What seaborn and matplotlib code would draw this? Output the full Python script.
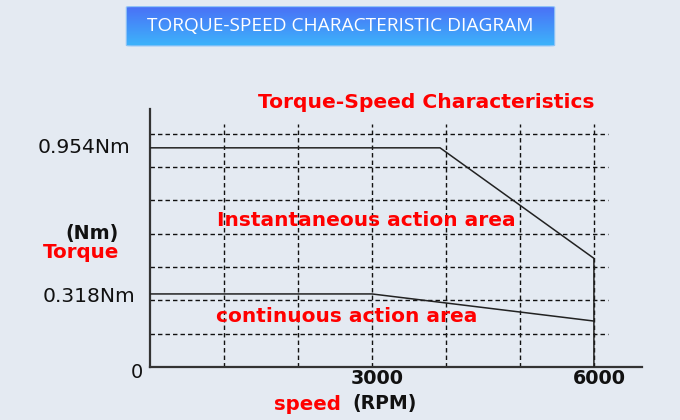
import numpy as np
import pandas as pd
import matplotlib
matplotlib.use("Agg")
import matplotlib.pyplot as plt
from matplotlib.patches import FancyBboxPatch
import seaborn as sns

# ---- data -------------------------------------------------------------
peak_speed = [0, 3920, 6000, 6000]          # RPM
peak_torque = [0.954, 0.954, 0.473, 0.0]    # Nm
rated_speed = [0, 3000, 6000]               # RPM
rated_torque = [0.318, 0.318, 0.200]        # Nm
speed_grid = [1000, 2000, 3000, 4000, 5000, 6000]
torque_grid = [0.145, 0.29, 0.435, 0.58, 0.725, 0.87, 1.015]
torque_marks = [0.954, 0.318]
torque_mark_labels = ["0.954Nm", "0.318Nm"]
speed_marks = [3000, 6000]
speed_mark_labels = ["3000", "6000"]

BG = "#e4eaf2"
RED = "#ff0000"
INK = "#111111"

sns.set_theme(style="white")
plt.rcParams["font.family"] = ["DejaVu Sans"]

W, H = 680, 420
fig = plt.figure(figsize=(W / 100, H / 100), dpi=100, facecolor=BG)


def fx(px):
    return px / W


def fy(py):
    return 1 - py / H


# ---- main axes ----------------------------------------------------------
ax = fig.add_axes([fx(150), fy(367), fx(642 - 150), (367 - 109) / H])
ax.set_facecolor(BG)
ax.set_xlim(0, 6650)
ax.set_ylim(0, 1.123)
for side in ("top", "right"):
    ax.spines[side].set_visible(False)
for side in ("left", "bottom"):
    ax.spines[side].set_color("#333333")
    ax.spines[side].set_linewidth(1.6)
ax.set_xticks([])
ax.set_yticks([])

dash = (0, (3.2, 2.2))
ax.vlines(speed_grid, 0, 1.058, colors=INK, linestyles=dash, linewidth=1.0, zorder=1)
ax.hlines(torque_grid, 0, 6185, colors=INK, linestyles=dash, linewidth=1.0, zorder=1)

peak = pd.DataFrame({"speed": peak_speed, "torque": peak_torque})
rated = pd.DataFrame({"speed": rated_speed, "torque": rated_torque})
sns.lineplot(data=peak, x="speed", y="torque", sort=False, estimator=None,
             color="#222222", linewidth=1.1, ax=ax, zorder=3)
sns.lineplot(data=rated, x="speed", y="torque", sort=False, estimator=None,
             color="#222222", linewidth=1.1, ax=ax, zorder=3)
ax.set_xlabel("")
ax.set_ylabel("")

# torque value labels beside the axis
ytr = ax.get_yaxis_transform()
ax.annotate(torque_mark_labels[0], xy=(0, torque_marks[0]), xycoords=ytr,
            xytext=(-20, 0), textcoords="offset pixels", ha="right", va="center",
            fontsize=14.6, color=INK, annotation_clip=False)
ax.annotate(torque_mark_labels[1], xy=(0, torque_marks[1]), xycoords=ytr,
            xytext=(-15, -3), textcoords="offset pixels", ha="right", va="center",
            fontsize=14.6, color=INK, annotation_clip=False)
ax.annotate("0", xy=(0, 0), xycoords=ytr, xytext=(-7, -6),
            textcoords="offset pixels", ha="right", va="center",
            fontsize=14, color=INK, annotation_clip=False)

# speed value labels under the axis
xtr = ax.get_xaxis_transform()
for s, lab in zip(speed_marks, speed_mark_labels):
    ax.annotate(lab, xy=(s, 0), xycoords=xtr, xytext=(5, -12),
                textcoords="offset pixels", ha="center", va="center",
                fontsize=13.8, fontweight="bold", color=INK,
                annotation_clip=False)

# area captions
fig.text(fx(258), fy(102), "Torque-Speed Characteristics", ha="left", va="center",
         fontsize=14.6, fontweight="bold", color=RED)
fig.text(fx(217), fy(220), "Instantaneous action area", ha="left", va="center",
         fontsize=14.5, fontweight="bold", color=RED)
fig.text(fx(216), fy(316), "continuous action area", ha="left", va="center",
         fontsize=14.5, fontweight="bold", color=RED)

# axis names
fig.text(fx(119), fy(233), "(Nm)", ha="right", va="center",
         fontsize=13.8, fontweight="bold", color=INK)
fig.text(fx(119), fy(252), "Torque", ha="right", va="center",
         fontsize=14.3, fontweight="bold", color=RED)
fig.text(fx(274), fy(404), "speed", ha="left", va="center",
         fontsize=14.2, fontweight="bold", color=RED)
fig.text(fx(352), fy(404), "(RPM)", ha="left", va="center",
         fontsize=13.6, fontweight="bold", color=INK)

# ---- header banner ------------------------------------------------------
bx = fig.add_axes([fx(125), fy(46.5), fx(556 - 125), 40.5 / H])
bx.set_axis_off()
bx.set_xlim(0, 1)
bx.set_ylim(0, 1)
top = np.array(matplotlib.colors.to_rgb("#4a6ef6"))
bot = np.array(matplotlib.colors.to_rgb("#3db4fb"))
t = np.linspace(0, 1, 64)[:, None, None]
grad = top * (1 - t) + bot * t
img = bx.imshow(np.repeat(grad, 4, axis=1), extent=(0, 1, 0, 1),
                aspect="auto", origin="upper", zorder=1)
box = FancyBboxPatch((0.003, 0.015), 0.994, 0.97,
                     boxstyle="round,pad=0,rounding_size=0.012",
                     transform=bx.transAxes, facecolor="none",
                     edgecolor="#8fc4f7", linewidth=0.8, zorder=2)
bx.add_patch(box)
img.set_clip_path(box)
bx.text(0.5, 0.5, "TORQUE-SPEED CHARACTERISTIC DIAGRAM", ha="center",
        va="center", fontsize=13.8, color="white", family="Open Sans",
        fontweight="medium", zorder=3)

fig.savefig("out.png", dpi=100, facecolor=BG)
